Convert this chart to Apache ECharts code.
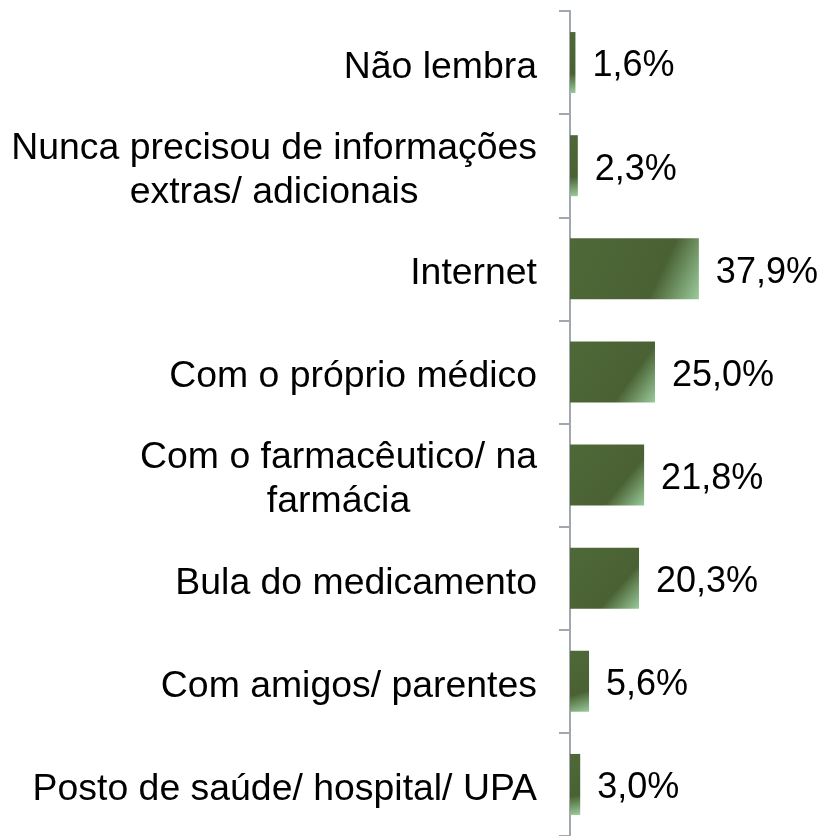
<!DOCTYPE html>
<html>
<head>
<meta charset="utf-8">
<script src="https://cdn.jsdelivr.net/npm/echarts@6/dist/echarts.min.js"></script>
<style>html,body{margin:0;padding:0;background:#fff}#c{width:823px;height:836px}</style>
</head>
<body>
<div id="c"></div>
<script>
const categories = [
  'Não lembra',
  'Nunca precisou de informações\nextras/ adicionais',
  'Internet',
  'Com o próprio médico',
  'Com o farmacêutico/ na\nfarmácia',
  'Bula do medicamento',
  'Com amigos/ parentes',
  'Posto de saúde/ hospital/ UPA'
];
const values = [1.6, 2.3, 37.9, 25.0, 21.8, 20.3, 5.6, 3.0];

const FONT = 'Liberation Sans, Arial, sans-serif';
const chart = echarts.init(document.getElementById('c'));
chart.setOption({
  animation: false,
  grid: { left: 570, top: 11, bottom: 0, width: 136, containLabel: false },
  xAxis: { type: 'value', min: 0, max: 40, show: false },
  yAxis: {
    type: 'category', data: categories, inverse: true,
    axisLine: { show: true, lineStyle: { color: '#a0a7ae', width: 2 } },
    axisTick: { show: true, length: 11, alignWithLabel: false, lineStyle: { color: '#a0a7ae', width: 2 } },
    axisLabel: {
      margin: 33, color: '#000', fontFamily: FONT, fontSize: 37.4,
      lineHeight: 44, padding: [10, 0, 0, 0],
      formatter: function (v) { return v.split('\n').map(s => '{a|' + s + '}').join('\n'); },
      rich: { a: { align: 'center', fontSize: 37.4, lineHeight: 44, color: '#000', fontFamily: FONT } }
    }
  },
  series: [{
    type: 'bar', data: values, barWidth: 61,
    itemStyle: {
      color: new echarts.graphic.LinearGradient(0, 0, 1, 1, [
        { offset: 0, color: '#4f6838' },
        { offset: 0.68, color: '#4a6233' },
        { offset: 1, color: '#9acb9c' }
      ])
    },
    label: {
      show: true, position: 'right', distance: 17, color: '#000',
      fontFamily: FONT, fontSize: 36, offset: [0, 4],
      formatter: p => p.value.toFixed(1).replace('.', ',') + '%'
    }
  }]
});
</script>
</body>
</html>
